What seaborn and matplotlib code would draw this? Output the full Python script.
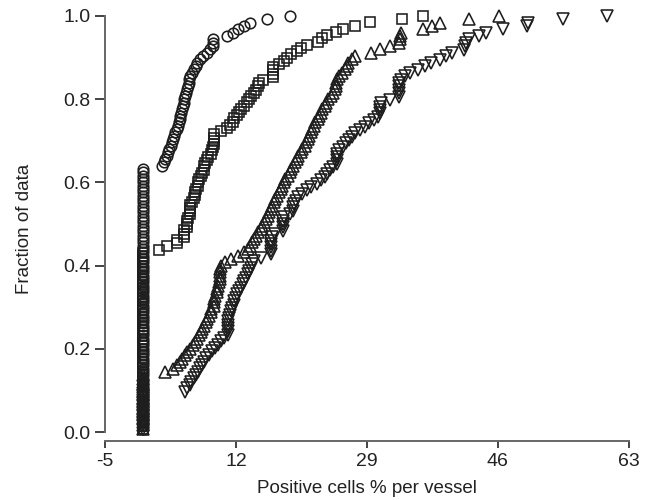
import numpy as np
import seaborn as sns
import matplotlib.pyplot as plt

# observed values (positive cells % per vessel), zeros given as counts
circle_zeros = 79
circle_vals = [2.35, 2.6, 2.85, 3.05, 3.2, 3.35, 3.55, 3.7, 3.85, 4.0,
               4.15, 4.3, 4.45, 4.55, 4.7, 4.8, 4.9, 5.0, 5.1, 5.2,
               5.3, 5.4, 5.5, 5.6, 5.75, 5.85, 5.95, 6.1, 6.3, 6.5,
               6.75, 7.0, 7.3, 7.7, 8.2, 8.6, 9.05, 9.05, 9.05,
               10.9, 11.6, 12.3, 13.0, 13.8, 16.0, 19.0]

square_zeros = 56
square_vals = [2.0, 3.1, 4.3, 4.3, 5.2, 5.2, 5.2, 5.6, 5.6, 5.6,
               5.8, 6.0, 6.0, 6.0, 6.1, 6.3, 6.5, 6.7, 6.7, 6.8,
               7.1, 7.1, 7.2, 7.4, 7.6, 7.8, 7.9, 8.0, 8.2, 8.4,
               8.8, 8.9, 9.0, 9.1, 9.1, 9.1, 9.2, 10.0, 10.8, 11.2,
               11.6, 11.8, 12.1, 12.4, 12.7, 13.0, 13.4, 13.7, 13.9, 14.3,
               14.6, 14.8, 15.0, 15.5, 16.8, 16.8, 16.8, 16.8, 17.6, 18.2,
               18.6, 19.2, 19.9, 20.5, 21.2, 22.6, 23.2, 23.8, 25.0, 25.9,
               27.4, 29.4, 33.5, 36.3]

up_zeros = 17
up_vals = [2.8, 3.8, 4.3, 4.7, 5.0, 5.4, 5.7, 6.1, 6.4, 6.7,
           6.9, 7.2, 7.4, 7.6, 7.8, 8.1, 8.3, 8.5, 8.7, 8.8,
           9.1, 9.2, 9.2, 9.3, 9.5, 9.6, 9.7, 9.8, 9.9, 9.9,
           9.9, 9.9, 10.0, 10.6, 11.4, 12.3, 13.0, 13.5, 13.8, 14.1,
           14.4, 14.6, 14.9, 15.2, 15.4, 15.7, 15.9, 16.1, 16.3, 16.5,
           16.7, 17.0, 17.1, 17.3, 17.6, 17.8, 18.0, 18.2, 18.4, 18.7,
           19.0, 19.2, 19.4, 19.7, 19.9, 20.1, 20.4, 20.6, 20.9, 21.1,
           21.3, 21.5, 21.7, 21.9, 22.1, 22.3, 22.6, 22.8, 23.0, 23.2,
           23.5, 23.7, 24.0, 24.3, 24.6, 24.9, 25.0, 25.0, 25.1, 25.4,
           25.8, 26.1, 26.4, 26.6, 27.0, 27.4, 29.5, 30.7, 32.0, 33.2,
           33.3, 33.3, 33.4, 36.3, 37.4, 38.5, 42.2, 46.2]

down_zeros = 11
down_vals = [5.4, 5.7, 6.0, 6.2, 6.5, 6.8, 7.1, 7.3, 7.6, 7.9,
             8.1, 8.5, 8.9, 9.3, 9.7, 10.1, 10.4, 11.0, 11.0, 11.0,
             11.0, 11.0, 11.1, 11.2, 11.3, 11.5, 11.7, 11.8, 12.0, 12.2,
             12.4, 12.7, 12.9, 13.1, 13.3, 13.5, 13.7, 13.9, 14.1, 14.4,
             15.3, 16.6, 16.6, 16.6, 16.6, 16.6, 16.7, 17.1, 18.1, 18.1,
             18.1, 18.1, 18.2, 19.0, 19.4, 19.4, 19.5, 19.8, 20.1, 20.6,
             21.2, 21.8, 22.5, 23.0, 23.5, 23.8, 24.2, 24.6, 25.1, 25.1,
             25.1, 25.1, 25.4, 25.9, 26.3, 26.7, 27.1, 27.5, 28.1, 28.7,
             29.3, 29.9, 30.4, 30.7, 30.7, 30.7, 30.8, 32.0, 33.1, 33.1,
             33.1, 33.1, 33.2, 33.4, 34.0, 34.6, 35.6, 36.5, 37.3, 38.5,
             39.2, 40.0, 41.6, 41.7, 41.8, 42.2, 43.5, 44.5, 46.7, 49.8,
             49.9, 54.5, 60.1]

x_ticks = [-5, 12, 29, 46, 63]
y_ticks = [0.0, 0.2, 0.4, 0.6, 0.8, 1.0]

sns.set_style('ticks')
plt.rcParams['font.family'] = ['Liberation Sans', 'DejaVu Sans']

fig = plt.figure(figsize=(6.5, 5), dpi=100)
ax = fig.add_axes([0.1615, 0.118, 0.806, 0.85])

groups = [
    (circle_zeros, circle_vals, 'o', 7.6),
    (square_zeros, square_vals, 's', 7.2),
    (up_zeros, up_vals, '^', 8.0),
    (down_zeros, down_vals, 'v', 8.0),
]
for nz, vals, mk, ms in groups:
    data = np.r_[np.zeros(nz), vals]
    sns.ecdfplot(x=data, ax=ax, marker=mk, linestyle='none', markersize=ms,
                 markerfacecolor='none', markeredgecolor='#1e1e1e',
                 markeredgewidth=1.15, color='#1e1e1e', clip_on=False)

ax.set_xlim(-5, 63)
ax.set_ylim(-0.0216, 1.0)
ax.set_xticks(x_ticks)
ax.set_xticklabels([str(t) for t in x_ticks])
ax.set_yticks(y_ticks)
ax.set_yticklabels([f'{t:.1f}' for t in y_ticks])
ax.spines['left'].set_bounds(0, 1)
sns.despine(ax=ax)
for s in ['left', 'bottom']:
    ax.spines[s].set_color('#666666')
    ax.spines[s].set_linewidth(1.4)
ax.tick_params(axis='both', colors='#222222', labelsize=14, width=1.2, length=7)
ax.tick_params(axis='x', length=5)
ax.set_xlabel('Positive cells % per vessel', fontsize=13.5, color='#222222', labelpad=7)
ax.set_ylabel('Fraction of data', fontsize=13.5, color='#222222', labelpad=22)

fig.savefig('out.png', dpi=100)
